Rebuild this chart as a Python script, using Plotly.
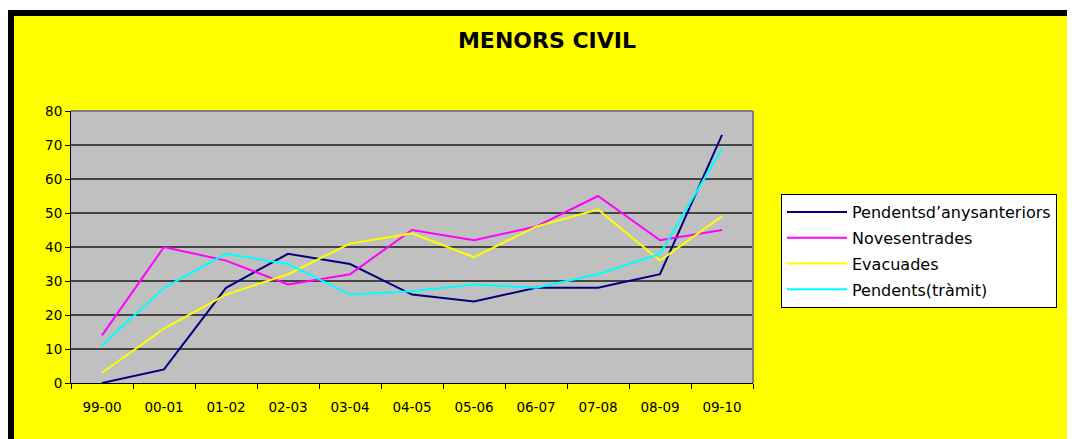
import plotly.graph_objects as go

categories = ["99-00", "00-01", "01-02", "02-03", "03-04", "04-05",
              "05-06", "06-07", "07-08", "08-09", "09-10"]
pendents_anteriors = [0, 4, 28, 38, 35, 26, 24, 28, 28, 32, 73]
noves_entrades = [14, 40, 36, 29, 32, 45, 42, 46, 55, 42, 45]
evacuades = [3, 16, 26, 32, 41, 44, 37, 46, 51, 36, 49]
pendents_tramit = [11, 28, 38, 35, 26, 27, 29, 28, 32, 38, 69]

series_names = ["Pendentsd’anysanteriors", "Novesentrades", "Evacuades", "Pendents(tràmit)"]
series_values = [pendents_anteriors, noves_entrades, evacuades, pendents_tramit]
series_colors = ["#000080", "#FF00FF", "#FFFF00", "#00FFFF"]

OFF = 8  # page body margin: figure starts at (8, 8) of the page
W, H = 1075 - OFF, 439 - OFF
L, R, T, B = 71 - OFF, 753 - OFF, 111 - OFF, 383 - OFF  # plot area, figure pixels


def px(x):
    """page x pixel -> paper coordinate"""
    return (x - OFF - L) / (R - L)


def py(y):
    """page y pixel -> paper coordinate"""
    return (B - (y - OFF)) / (B - T)


fig = go.Figure()
for i, (name, vals, col) in enumerate(zip(series_names, series_values, series_colors)):
    fig.add_trace(go.Scatter(
        x=categories, y=vals, name=name, mode="lines",
        line=dict(color=col, width=2), legendgroup=f"g{i}",
    ))

shapes = [
    # white margin at top
    dict(type="rect", xref="paper", yref="paper", x0=px(0), x1=px(1080), y0=py(0), y1=py(10),
         fillcolor="white", line_width=0, layer="below"),
    # black frame top and left
    dict(type="rect", xref="paper", yref="paper", x0=px(6), x1=px(1080), y0=py(10), y1=py(16),
         fillcolor="black", line_width=0, layer="below"),
    dict(type="rect", xref="paper", yref="paper", x0=px(6), x1=px(14), y0=py(10), y1=py(445),
         fillcolor="black", line_width=0, layer="below"),
    # plot border top and right (gray)
    dict(type="line", xref="paper", yref="paper", x0=0, x1=1, y0=1, y1=1,
         line=dict(color="#808080", width=2)),
    dict(type="line", xref="paper", yref="paper", x0=1, x1=1, y0=0, y1=1,
         line=dict(color="#808080", width=2)),
]

fig.update_layout(
    width=W, height=H,
    margin=dict(l=L, r=W - R, t=T, b=H - B, pad=0),
    paper_bgcolor="#FFFF00",
    plot_bgcolor="#C0C0C0",
    shapes=shapes,
    title=dict(text="<b>MENORS CIVIL</b>", x=(547 - OFF) / W, xanchor="center",
               y=1 - (40 - OFF) / H, yanchor="middle",
               font=dict(family="DejaVu Sans", size=22, color="black")),
    font=dict(family="DejaVu Sans", size=13.5, color="black"),
    showlegend=True,
    legend=dict(
        x=px(781), y=py(194), xanchor="left", yanchor="top",
        bgcolor="white", bordercolor="black", borderwidth=1,
        font=dict(family="DejaVu Sans", size=16, color="black"),
        tracegroupgap=2, itemwidth=60,
    ),
)

fig.update_xaxes(
    type="category", range=[-0.5, len(categories) - 0.5],
    showgrid=False, showline=True, linecolor="black", linewidth=1,
    ticks="outside", tickson="boundaries", ticklen=5, tickcolor="black",
    ticklabelstandoff=12,
    tickfont=dict(family="DejaVu Sans", size=13.5, color="black"),
    zeroline=False, fixedrange=True,
)
fig.update_yaxes(
    range=[0, 80], dtick=10, tick0=0,
    showgrid=True, gridcolor="#444444", gridwidth=1.5,
    showline=True, linecolor="black", linewidth=1,
    ticks="outside", ticklen=5, tickcolor="black",
    tickfont=dict(family="DejaVu Sans", size=13.5, color="black"),
    zeroline=False, fixedrange=True,
)

fig.write_html("out.html")
